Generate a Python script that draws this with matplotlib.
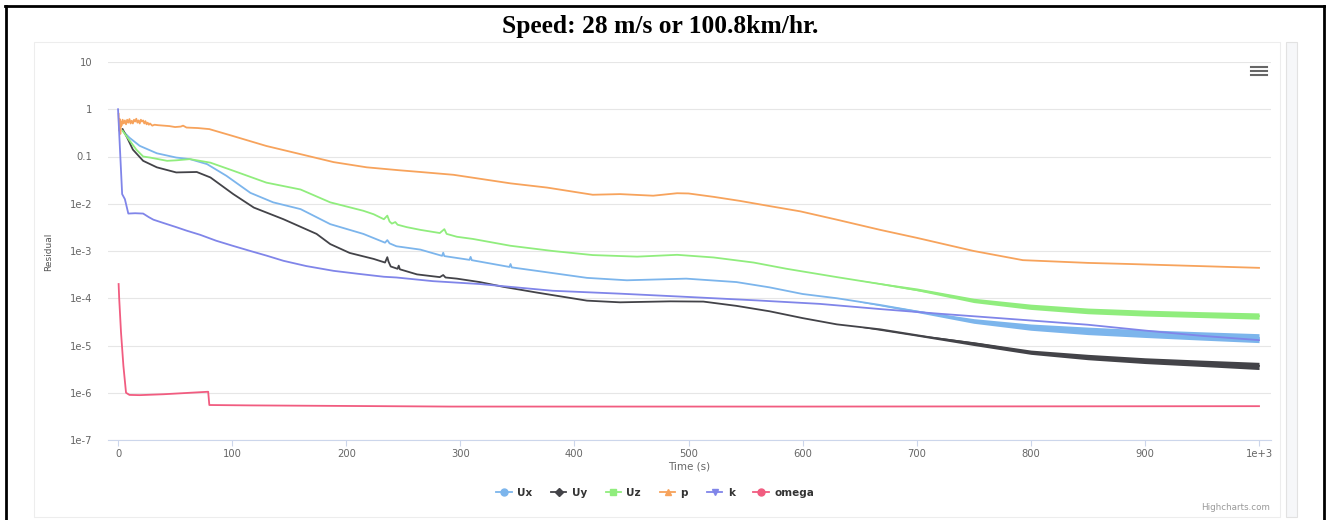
import matplotlib.pyplot as plt
from matplotlib.lines import Line2D
from matplotlib.patches import Rectangle

# residual history (time in s)
ux_t = [4, 10, 19, 34, 51, 63, 78, 95, 116, 136, 160, 186, 215, 234, 236, 238, 244, 265, 284, 285,
        286, 308, 309, 310, 343, 344, 345, 367, 411, 446, 498, 542, 571, 600, 630, 668, 712, 750, 785, 830,
        872, 920, 960, 1000]
ux_v = [0.35, 0.25, 0.168, 0.117, 0.095, 0.088, 0.069, 0.039, 0.017, 0.0107, 0.0077, 0.0037, 0.0023, 0.0015,
        0.0017, 0.00145, 0.00126, 0.00107, 7.9e-4, 9.2e-4, 7.8e-4, 6.5e-4, 7.5e-4, 6.4e-4, 4.6e-4, 5.3e-4,
        4.5e-4, 3.8e-4, 2.7e-4, 2.4e-4, 2.6e-4, 2.2e-4, 1.7e-4, 1.23e-4, 1.0e-4, 7.2e-5, 4.7e-5, 3.3e-5,
        2.6e-5, 2.2e-5, 1.9e-5, 1.7e-5, 1.56e-5, 1.44e-5]

uy_t = [4, 8, 13, 22, 34, 51, 69, 81, 101, 119, 145, 174, 186, 203, 224, 234, 236, 237, 239, 245,
        246, 247, 262, 282, 285, 287, 297, 317, 338, 367, 411, 440, 484, 513, 542, 571, 600, 630, 668, 712,
        755, 799, 843, 902, 950, 1000]
uy_v = [0.38, 0.25, 0.14, 0.081, 0.059, 0.046, 0.047, 0.036, 0.016, 0.0083, 0.0047, 0.0023, 0.0014, 9.1e-4,
        6.8e-4, 5.7e-4, 7.4e-4, 6.0e-4, 4.7e-4, 4.2e-4, 4.9e-4, 4.1e-4, 3.2e-4, 2.8e-4, 3.1e-4, 2.75e-4,
        2.6e-4, 2.2e-4, 1.74e-4, 1.32e-4, 8.9e-5, 8.2e-5, 8.6e-5, 8.5e-5, 6.9e-5, 5.3e-5, 3.8e-5, 2.8e-5,
        2.2e-5, 1.49e-5, 1.07e-5, 7.2e-6, 5.8e-6, 4.8e-6, 4.2e-6, 3.7e-6]

uz_t = [4, 10, 16, 22, 28, 43, 51, 63, 81, 101, 130, 160, 186, 215, 224, 233, 236, 238, 240, 243,
        245, 253, 265, 282, 286, 288, 297, 311, 344, 381, 416, 455, 490, 522, 557, 586, 630, 668, 712, 755,
        799, 843, 902, 950, 1000]
uz_v = [0.35, 0.22, 0.14, 0.1, 0.095, 0.081, 0.083, 0.088, 0.074, 0.05, 0.028, 0.02, 0.0107, 0.0071,
        0.006, 0.0047, 0.0056, 0.0042, 0.0038, 0.0041, 0.0036, 0.0032, 0.0028, 0.0024, 0.0029, 0.0023,
        0.002, 0.0018, 0.00129, 0.001, 8.2e-4, 7.6e-4, 8.3e-4, 7.3e-4, 5.7e-4, 4.2e-4, 2.8e-4, 2.0e-4,
        1.33e-4, 8.5e-5, 6.6e-5, 5.5e-5, 4.9e-5, 4.5e-5, 4.2e-5]

p_t = [0.5, 1, 1.5, 2, 2.5, 3, 4, 5, 6, 7, 8, 9, 10, 11, 12, 13, 14, 15, 16, 17, 18, 19, 20, 21, 22,
       23, 24, 25, 26, 27, 28, 30, 32, 35, 40, 45, 50, 55, 57, 60, 70, 80, 101, 130, 160, 189, 218, 247,
       265, 294, 344, 376, 416, 440, 469, 490, 500, 522, 545, 569, 598, 630, 668, 700, 750, 793, 850, 887,
       960, 1000]
p_v = [0.8, 0.35, 0.62, 0.3, 0.55, 0.45, 0.6, 0.5, 0.58, 0.48, 0.6, 0.52, 0.62, 0.5, 0.57, 0.5, 0.6,
       0.55, 0.63, 0.52, 0.58, 0.5, 0.6, 0.55, 0.58, 0.5, 0.56, 0.48, 0.52, 0.47, 0.5, 0.45, 0.47, 0.46,
       0.45, 0.44, 0.42, 0.43, 0.45, 0.41, 0.4, 0.38, 0.27, 0.167, 0.112, 0.076, 0.059, 0.051, 0.047,
       0.041, 0.027, 0.022, 0.0155, 0.016, 0.0148, 0.0167, 0.0165, 0.014, 0.0115, 0.0091, 0.0069, 0.0046,
       0.0028, 0.0019, 0.001, 6.4e-4, 5.6e-4, 5.3e-4, 4.7e-4, 4.4e-4]

k_t = [0, 3.6, 6, 9, 15, 22, 27, 31, 40, 51, 60, 72, 86, 100, 116, 130, 145, 165, 189, 210, 233, 244,
       276, 317, 381, 440, 498, 560, 615, 668, 720, 785, 850, 902, 950, 1000]
k_v = [1.0, 0.016, 0.0125, 0.0062, 0.0063, 0.0062, 0.0052, 0.0046, 0.0039, 0.0032, 0.0027, 0.0022,
       0.00165, 0.0013, 0.001, 8e-4, 6.2e-4, 4.8e-4, 3.8e-4, 3.3e-4, 2.85e-4, 2.75e-4, 2.3e-4, 2.0e-4,
       1.44e-4, 1.25e-4, 1.07e-4, 9.0e-5, 7.6e-5, 5.9e-5, 4.7e-5, 3.6e-5, 2.75e-5, 2.05e-5, 1.6e-5, 1.3e-5]

om_t = [0.5, 1, 2.6, 4.7, 7, 10, 19, 40, 57, 79, 80, 116, 291, 600, 1000]
om_v = [2.0e-4, 1.0e-4, 1.9e-5, 3.7e-6, 1.0e-6, 9.0e-7, 8.9e-7, 9.3e-7, 9.8e-7, 1.05e-6, 5.5e-7, 5.4e-7,
        5.1e-7, 5.1e-7, 5.2e-7]

# late-time oscillation envelopes (the thick bands on the right)
band_t = [650, 700, 750, 800, 850, 900, 950, 1000]
ux_hi = [8.7e-5, 5.6e-5, 3.7e-5, 2.85e-5, 2.45e-5, 2.15e-5, 1.95e-5, 1.78e-5]
ux_lo = [8.3e-5, 5.0e-5, 2.95e-5, 2.1e-5, 1.7e-5, 1.48e-5, 1.3e-5, 1.15e-5]
uy_hi = [2.55e-5, 1.72e-5, 1.2e-5, 8.0e-6, 6.5e-6, 5.5e-6, 4.9e-6, 4.4e-6]
uy_lo = [2.45e-5, 1.58e-5, 1.0e-5, 6.5e-6, 5.0e-6, 4.15e-6, 3.6e-6, 3.1e-6]
uz_hi = [2.45e-4, 1.65e-4, 1.0e-4, 7.5e-5, 6.2e-5, 5.6e-5, 5.2e-5, 4.9e-5]
uz_lo = [2.35e-4, 1.45e-4, 8.1e-5, 5.8e-5, 4.7e-5, 4.2e-5, 3.9e-5, 3.6e-5]

x_ticks = [0, 100, 200, 300, 400, 500, 600, 700, 800, 900, 1000]
x_labels = ['0', '100', '200', '300', '400', '500', '600', '700', '800', '900', '1e+3']
y_ticks = [1e-7, 1e-6, 1e-5, 1e-4, 1e-3, 1e-2, 0.1, 1, 10]
y_labels = ['1e-7', '1e-6', '1e-5', '1e-4', '1e-3', '1e-2', '0.1', '1', '10']

W, H = 1326, 520
fig = plt.figure(figsize=(W / 100, H / 100), dpi=100)
fig.patch.set_facecolor('white')


def fx(px):
    return px / W


def fy(py):
    return 1 - py / H


ax = fig.add_axes([fx(108), fy(440), fx(1271) - fx(108), fy(62) - fy(440)])
ax.set_yscale('log')
ax.set_ylim(1e-7, 10)
ax.set_xlim(-8.8, 1010.5)

series = [
    ('Ux', ux_t, ux_v, '#7cb5ec', 'o'),
    ('Uy', uy_t, uy_v, '#434348', 'D'),
    ('Uz', uz_t, uz_v, '#90ed7d', 's'),
    ('p', p_t, p_v, '#f7a35c', '^'),
    ('k', k_t, k_v, '#8085e9', 'v'),
    ('omega', om_t, om_v, '#f15c80', 'o'),
]
bands = {'Ux': (ux_lo, ux_hi), 'Uy': (uy_lo, uy_hi), 'Uz': (uz_lo, uz_hi)}

handles = []
for name, t, v, c, m in series:
    if name in bands:
        lo, hi = bands[name]
        ax.fill_between(band_t, lo, hi, color=c, lw=0)
    ax.plot(t, v, color=c, lw=1.3)
    ms = 4 if m == 'D' else 5
    handles.append(Line2D([], [], color=c, lw=1.3, marker=m, markersize=ms))

ax.set_yticks(y_ticks)
ax.set_yticklabels(y_labels)
ax.minorticks_off()
ax.set_xticks(x_ticks)
ax.set_xticklabels(x_labels)
ax.yaxis.grid(True, color='#e6e6e6', lw=0.8)
ax.set_axisbelow(True)
for s in ['top', 'left', 'right']:
    ax.spines[s].set_visible(False)
ax.spines['bottom'].set_color('#ccd6eb')
ax.spines['bottom'].set_linewidth(0.8)
ax.tick_params(axis='x', length=4, width=0.8, color='#ccd6eb', labelcolor='#666666', labelsize=7.2, pad=2.5)
ax.tick_params(axis='y', length=0, labelcolor='#666666', labelsize=7.2, pad=11)

ax.set_xlabel('Time (s)', color='#666666', fontsize=7.5, labelpad=2)
fig.text(fx(49), fy(252), 'Residual', rotation=90, ha='center', va='center', fontsize=6.5, color='#555555')

fig.legend(handles, [s[0] for s in series], loc='center', bbox_to_anchor=(fx(655), fy(493)), ncol=6,
           frameon=False, handlelength=1.5, handletextpad=0.5, columnspacing=1.8,
           prop={'weight': 'bold', 'size': 7.5}, labelcolor='#333333')

fig.text(fx(1270), fy(508), 'Highcharts.com', ha='right', va='center', fontsize=6.3, color='#999999')

# export menu icon
for yy in [67, 71, 75]:
    fig.add_artist(Line2D([fx(1251), fx(1267)], [fy(yy), fy(yy)], color='#666666', lw=1.5))

# chart container and scroll strip
fig.add_artist(Rectangle((fx(34), fy(517)), fx(1280) - fx(34), fy(42) - fy(517), transform=fig.transFigure,
                         fill=False, edgecolor='#ededed', lw=0.8))
fig.add_artist(Rectangle((fx(1286), fy(517)), fx(1297) - fx(1286), fy(42) - fy(517), transform=fig.transFigure,
                         facecolor='#f6f7f9', edgecolor='#e2e2e2', lw=0.8))

# page frame and caption
fig.add_artist(Line2D([fx(5), fx(1324)], [fy(6), fy(6)], color='black', lw=2))
fig.add_artist(Line2D([fx(5.5), fx(5.5)], [fy(6), fy(520)], color='black', lw=2))
fig.add_artist(Line2D([fx(1324), fx(1324)], [fy(6), fy(520)], color='black', lw=2))
fig.text(fx(660), fy(33), 'Speed: 28 m/s or 100.8km/hr.', ha='center', va='baseline',
         fontsize=18.4, fontweight='bold', family='Liberation Serif')

fig.savefig('out.png', dpi=100)
